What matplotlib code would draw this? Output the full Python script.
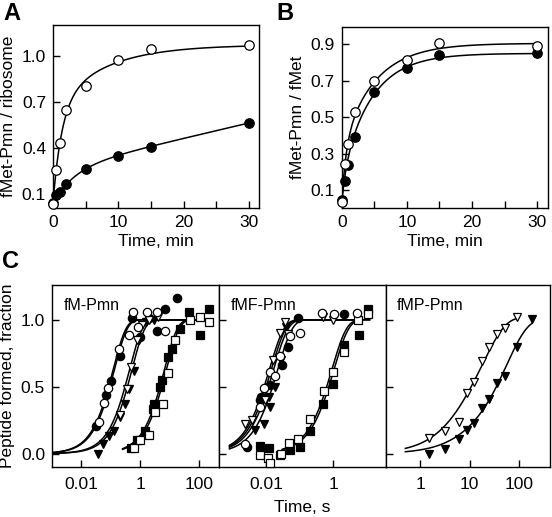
import numpy as np
import matplotlib
matplotlib.use('Agg')
import matplotlib.pyplot as plt

plt.rcParams['font.family'] = ['Liberation Sans', 'DejaVu Sans']
plt.rcParams['axes.linewidth'] = 1.0

# ---------------- panel A / B : time courses (min) ----------------
t_min = [0, 0.5, 1, 2, 5, 10, 15, 30]
A_open = [0.037, 0.254, 0.432, 0.649, 0.805, 0.974, 1.043, 1.067]
A_fill = [0.04, 0.096, 0.113, 0.165, 0.263, 0.345, 0.404, 0.562]
B_open = [0.036, 0.244, 0.353, 0.528, 0.700, 0.813, 0.909, 0.893]
B_fill = [0.05, 0.153, 0.240, 0.395, 0.637, 0.769, 0.842, 0.851]

# fit parameters
# biexp: base, a1, k1, a2, k2 ; exp+linear: base, a, k, slope
A_open_fit = (0.04, 0.62, 0.75, 0.41, 0.13)
A_fill_fit = (0.04, 0.222, 0.30, 0.010)
B_open_fit = (0.03, 0.30, 1.50, 0.575, 0.20)
B_fill_fit = (0.03, 0.15, 1.50, 0.67, 0.22)

# ---------------- panel C : peptide formed vs time (s) ----------------
# fM-Pmn
c1_oc_t = [0.039, 0.057, 0.08, 0.186, 0.41, 0.56, 0.83, 1.7, 3.6, 6.9]
c1_oc_y = [0.24, 0.38, 0.49, 0.78, 0.89, 1.06, 0.95, 1.06, 1.06, 0.92]
c1_fc_t = [0.032, 0.069, 0.10, 0.21, 0.52, 1.0, 1.9, 3.6, 6.9, 17]
c1_fc_y = [0.21, 0.435, 0.54, 0.73, 1.01, 0.87, 1.01, 0.915, 1.08, 1.16]
c1_ot_t = [0.21, 0.35, 0.5, 0.75, 1.1, 2.0, 4.0]
c1_ot_y = [0.29, 0.48, 0.65, 0.85, 0.96, 1.0, 1.02]
c1_ft_t = [0.036, 0.055, 0.085, 0.13, 0.2, 0.3, 0.42, 0.6, 0.9, 1.5, 3.0]
c1_ft_y = [0.0, 0.07, 0.13, 0.17, 0.27, 0.37, 0.48, 0.62, 0.85, 0.98, 1.0]
c1_os_t = [0.6, 1.0, 1.9, 3.2, 5.8, 8.9, 15, 49, 105, 218]
c1_os_y = [0.04, 0.10, 0.14, 0.31, 0.37, 0.60, 0.85, 1.0, 1.02, 0.98]
c1_fs_t = [0.5, 0.8, 1.45, 2.6, 3.0, 4.5, 5.3, 9.0, 11.5, 22, 46, 105, 218]
c1_fs_y = [0.045, 0.10, 0.17, 0.33, 0.37, 0.50, 0.55, 0.72, 0.78, 0.93, 1.06, 0.89, 1.08]
c1_k = {'oc': 8.3, 'fc': 7.5, 'ot': 2.3, 'ft': 1.9, 'os': 0.13, 'fs': 0.15}

# fMF-Pmn
c2_oc_t = [0.0024, 0.0066, 0.0083, 0.0126, 0.0185, 0.026, 0.051, 0.098, 0.45, 1.05, 5.2]
c2_oc_y = [0.07, 0.35, 0.49, 0.61, 0.58, 0.73, 0.88, 0.90, 1.05, 1.04, 1.05]
c2_fc_t = [0.0027, 0.0066, 0.0072, 0.013, 0.029, 0.044, 0.091, 2.0]
c2_fc_y = [0.05, 0.40, 0.42, 0.51, 0.66, 0.80, 1.01, 1.045]
c2_ot_t = [0.0024, 0.0037, 0.0093, 0.016, 0.026, 0.036, 0.045, 0.5, 1.0]
c2_ot_y = [0.22, 0.25, 0.40, 0.70, 0.90, 0.98, 0.895, 1.02, 1.0]
c2_ft_t = [0.0047, 0.0083, 0.0117, 0.013, 0.018, 0.028, 0.04]
c2_ft_y = [0.18, 0.22, 0.42, 0.35, 0.50, 0.70, 0.95]
c2_os_t = [0.0066, 0.011, 0.0125, 0.028, 0.046, 0.091, 0.195, 0.52, 1.0, 2.1, 5.5, 11]
c2_os_y = [-0.01, -0.03, -0.07, 0.0, 0.08, 0.11, 0.26, 0.47, 0.61, 0.76, 1.0, 1.045]
c2_fs_t = [0.0066, 0.0117, 0.026, 0.051, 0.098, 0.2, 0.5, 1.0, 2.0, 5.9, 11]
c2_fs_y = [0.055, 0.04, -0.01, 0.025, 0.05, 0.17, 0.37, 0.52, 0.81, 0.89, 1.08]
c2_k = {'oc': 70, 'fc': 60, 'ot': 80, 'ft': 45, 'os': 1.1, 'fs': 0.95}

# fMP-Pmn
c3_ot_t = [1.5, 3.1, 6.0, 8.9, 12, 18, 24, 35, 51, 91]
c3_ot_y = [0.117, 0.17, 0.24, 0.455, 0.534, 0.69, 0.80, 0.895, 0.94, 1.02]
c3_ft_t = [1.5, 3.1, 6.0, 8.9, 12.4, 17.7, 24, 35, 51, 91, 178]
c3_ft_y = [0.0, 0.037, 0.107, 0.174, 0.23, 0.34, 0.41, 0.53, 0.58, 0.80, 1.007]
c3_ot_fit = (0.0, 0.15, 0.25, 0.87, 0.05)
c3_ft_fit = (0.0, 0.06, 0.20, 0.95, 0.018)


def biexp(t, base, a1, k1, a2, k2):
    return base + a1 * (1 - np.exp(-k1 * t)) + a2 * (1 - np.exp(-k2 * t))


def exp_lin(t, base, a, k, m):
    return base + a * (1 - np.exp(-k * t)) + m * t


def single(t, k):
    return 1 - np.exp(-k * t)


fig = plt.figure(figsize=(5.52, 5.17), dpi=100)

FS = 12.5
ms_ab = 6.8
ms_c = 6.0
mew = 0.9
lw = 1.1


def open_mk(ax, x, y, m, ms):
    ax.plot(x, y, m, ms=ms, mfc='white', mec='black', mew=mew, ls='none',
            clip_on=False, zorder=4)


def fill_mk(ax, x, y, m, ms):
    ax.plot(x, y, m, ms=ms, mfc='black', mec='black', mew=mew, ls='none',
            clip_on=False, zorder=3)


def style(ax):
    ax.tick_params(direction='in', length=5, width=1, labelsize=FS, pad=5)
    ax.tick_params(which='minor', direction='in', length=5, width=1)


# ---- A ----
axA = fig.add_axes([0.096, 0.598, 0.373, 0.354])
tt = np.linspace(0, 30, 300)
axA.plot(tt, biexp(tt, *A_open_fit), 'k-', lw=lw, zorder=2)
axA.plot(tt, exp_lin(tt, *A_fill_fit), 'k-', lw=lw, zorder=2)
fill_mk(axA, t_min, A_fill, 'o', ms_ab)
open_mk(axA, t_min, A_open, 'o', ms_ab)
axA.set_xlim(0, 31.5)
axA.set_ylim(0.01, 1.2)
axA.set_xticks([0, 10, 20, 30])
axA.set_xticks([5, 15, 25], minor=True)
axA.set_yticks([0.1, 0.4, 0.7, 1.0])
axA.set_yticklabels(['0.1', '0.4', '0.7', '1.0'])
axA.set_xlabel('Time, min', fontsize=FS, labelpad=3)
axA.set_ylabel('fMet-Pmn / ribosome', fontsize=FS, labelpad=4)
style(axA)

# ---- B ----
axB = fig.add_axes([0.619, 0.598, 0.374, 0.350])
axB.plot(tt, biexp(tt, *B_open_fit), 'k-', lw=lw, zorder=2)
axB.plot(tt, biexp(tt, *B_fill_fit), 'k-', lw=lw, zorder=2)
fill_mk(axB, t_min, B_fill, 'o', ms_ab)
open_mk(axB, t_min, B_open, 'o', ms_ab)
axB.set_xlim(0, 31.7)
axB.set_ylim(0.005, 0.995)
axB.set_xticks([0, 10, 20, 30])
axB.set_xticks([5, 15, 25], minor=True)
axB.set_yticks([0.1, 0.3, 0.5, 0.7, 0.9])
axB.set_yticklabels(['0.1', '0.3', '0.5', '0.7', '0.9'])
axB.set_xlabel('Time, min', fontsize=FS, labelpad=3)
axB.set_ylabel('fMet-Pmn / fMet', fontsize=FS, labelpad=4)
style(axB)

# ---- C ----
bottom, height = 0.0967, 0.352
axC1 = fig.add_axes([0.0942, bottom, 0.3031, height])
axC2 = fig.add_axes([0.3973, bottom, 0.3014, height])
axC3 = fig.add_axes([0.6987, bottom, 0.2977, height])

# fM-Pmn
ts = np.logspace(-3, 2, 300)
for key in ['oc', 'fc', 'ot', 'ft']:
    axC1.plot(ts, single(ts, c1_k[key]), 'k-', lw=lw, zorder=2)
ts_sq = np.logspace(np.log10(0.25), 2, 200)
for key in ['os', 'fs']:
    axC1.plot(ts_sq, single(ts_sq, c1_k[key]), 'k-', lw=lw, zorder=2)
fill_mk(axC1, c1_fs_t, c1_fs_y, 's', ms_c - 0.5)
open_mk(axC1, c1_os_t, c1_os_y, 's', ms_c - 0.5)
fill_mk(axC1, c1_ft_t, c1_ft_y, 'v', ms_c)
open_mk(axC1, c1_ot_t, c1_ot_y, 'v', ms_c)
fill_mk(axC1, c1_fc_t, c1_fc_y, 'o', ms_c)
open_mk(axC1, c1_oc_t, c1_oc_y, 'o', ms_c)
axC1.set_xlim(0.001, 480)

# fMF-Pmn
ts = np.logspace(np.log10(0.0008), np.log10(6), 300)
for key in ['oc', 'fc', 'ot', 'ft']:
    axC2.plot(ts, single(ts, c2_k[key]), 'k-', lw=lw, zorder=2)
ts_sq = np.logspace(np.log10(0.03), np.log10(12), 200)
for key in ['os', 'fs']:
    axC2.plot(ts_sq, single(ts_sq, c2_k[key]), 'k-', lw=lw, zorder=2)
fill_mk(axC2, c2_fs_t, c2_fs_y, 's', ms_c - 0.5)
open_mk(axC2, c2_os_t, c2_os_y, 's', ms_c - 0.5)
fill_mk(axC2, c2_ft_t, c2_ft_y, 'v', ms_c)
open_mk(axC2, c2_ot_t, c2_ot_y, 'v', ms_c)
fill_mk(axC2, c2_fc_t, c2_fc_y, 'o', ms_c)
open_mk(axC2, c2_oc_t, c2_oc_y, 'o', ms_c)
axC2.set_xlim(0.0004, 36)

# fMP-Pmn
ts = np.logspace(np.log10(0.5), np.log10(90), 200)
axC3.plot(ts, biexp(ts, *c3_ot_fit), 'k-', lw=lw, zorder=2)
ts = np.logspace(np.log10(0.5), np.log10(180), 200)
axC3.plot(ts, biexp(ts, *c3_ft_fit), 'k-', lw=lw, zorder=2)
fill_mk(axC3, c3_ft_t, c3_ft_y, 'v', ms_c)
open_mk(axC3, c3_ot_t, c3_ot_y, 'v', ms_c)
axC3.set_xlim(0.2, 420)

c_ticks = [[0.01, 1, 100], [0.01, 1], [1, 10, 100]]
c_labels = [['0.01', '1', '100'], ['0.01', '1'], ['1', '10', '100']]
c_names = ['fM-Pmn', 'fMF-Pmn', 'fMP-Pmn']
for i, ax in enumerate([axC1, axC2, axC3]):
    ax.set_xscale('log')
    ax.set_ylim(-0.1, 1.26)
    ax.set_xticks(c_ticks[i])
    ax.set_xticklabels(c_labels[i])
    ax.xaxis.set_minor_locator(plt.NullLocator())
    ax.set_yticks([0.0, 0.5, 1.0])
    style(ax)
    ax.tick_params(axis='x', pad=7)
    if i == 0:
        ax.set_yticklabels(['0.0', '0.5', '1.0'])
    else:
        ax.set_yticklabels([])
    ax.text(0.07, 0.89, c_names[i], transform=ax.transAxes, fontsize=11.5,
            ha='left', va='center')

axC1.set_ylabel('Peptide formed, fraction', fontsize=FS, labelpad=4)
axC2.set_xlabel('Time, s', fontsize=FS, labelpad=6)

fig.text(12 / 552, 1 - 14 / 517, 'A', fontsize=17, fontweight='bold',
         ha='center', va='center')
fig.text(285 / 552, 1 - 14 / 517, 'B', fontsize=17, fontweight='bold',
         ha='center', va='center')
fig.text(11 / 552, 1 - 261 / 517, 'C', fontsize=17, fontweight='bold',
         ha='center', va='center')

fig.savefig('out.png', dpi=100)
